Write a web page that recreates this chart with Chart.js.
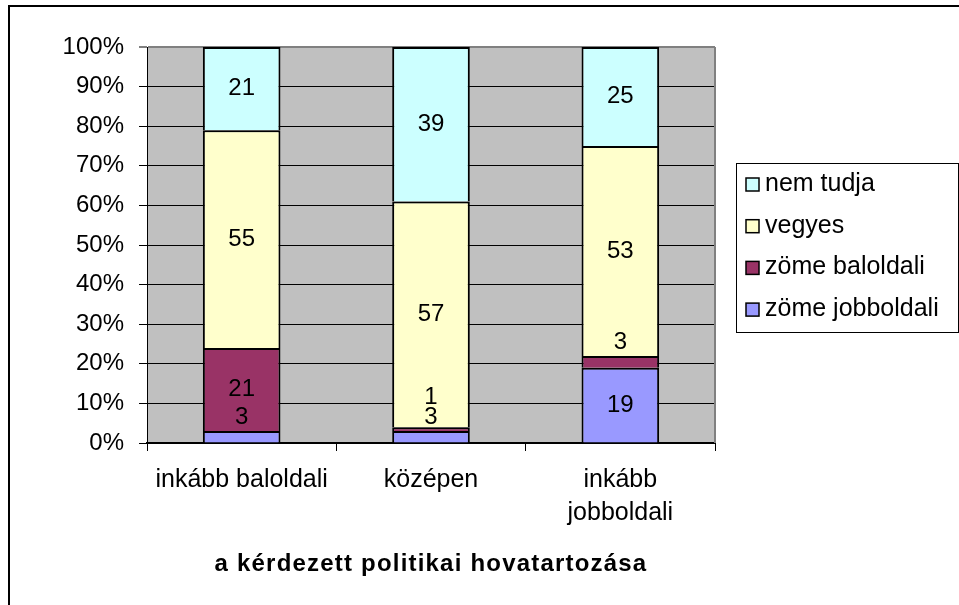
<!DOCTYPE html>
<html>
<head>
<meta charset="utf-8">
<script src="https://cdn.jsdelivr.net/npm/chart.js@4.4.1/dist/chart.umd.min.js"></script>
<style>
  html, body { margin: 0; padding: 0; background: #fff; }
  canvas { display: block; }
</style>
</head>
<body>
<canvas id="chart" width="959" height="605"></canvas>
<script>
// data
const categories = ['inkább baloldali', 'középen', ['inkább', 'jobboldali']];
const seriesNames = ['zöme jobboldali', 'zöme baloldali', 'vegyes', 'nem tudja'];
const zomeJobb = [3, 3, 19];
const zomeBal = [21, 1, 3];
const vegyes = [55, 57, 53];
const nemTudja = [21, 39, 25];
const yTickValues = [0, 10, 20, 30, 40, 50, 60, 70, 80, 90, 100];
const xTitle = 'a kérdezett politikai hovatartozása';

const colors = ['#9999FF', '#993366', '#FFFFCC', '#CCFFFF'];
const FONT = "'Liberation Sans', Arial, sans-serif";

const seriesData = [zomeJobb, zomeBal, vegyes, nemTudja];

const decorPlugin = {
  id: 'decor',
  beforeDraw(chart) {
    const { ctx, chartArea: a } = chart;
    ctx.save();
    ctx.fillStyle = '#fff';
    ctx.fillRect(0, 0, chart.width, chart.height);
    ctx.fillStyle = '#C0C0C0';
    ctx.fillRect(a.left, a.top, a.right - a.left, a.bottom - a.top);
    // outer frame (only top and left visible)
    ctx.strokeStyle = '#000';
    ctx.lineWidth = 2;
    ctx.strokeRect(9, 6, 1000, 700);
    ctx.restore();
  },
  afterDatasetsDraw(chart) {
    const { ctx, chartArea: a } = chart;
    ctx.save();
    // gray plot border on the right
    ctx.strokeStyle = '#808080';
    ctx.lineWidth = 2;
    ctx.beginPath();
    ctx.moveTo(a.right, a.top);
    ctx.lineTo(a.right, a.bottom);
    ctx.stroke();

    // value labels: centred in the segment, or just above a thin segment,
    // then pushed apart so they do not collide
    ctx.fillStyle = '#000';
    ctx.font = '24px ' + FONT;
    ctx.textAlign = 'center';
    ctx.textBaseline = 'middle';
    const n = chart.data.labels.length;
    for (let i = 0; i < n; i++) {
      let prevY = Infinity;
      chart.data.datasets.forEach((ds, d) => {
        const el = chart.getDatasetMeta(d).data[i];
        const h = Math.abs(el.base - el.y);
        let y = h < 24 ? el.y - 14 : (el.y + el.base) / 2;
        y = Math.min(y, prevY - 20);
        prevY = y;
        ctx.fillText(String(ds.data[i]), el.x, y);
      });
    }
    ctx.restore();
  },
  afterDraw(chart) {
    const { ctx, chartArea: a } = chart;
    ctx.save();
    // axis title
    ctx.fillStyle = '#000';
    ctx.font = 'bold 24px ' + FONT;
    ctx.letterSpacing = '1.2px';
    ctx.textAlign = 'center';
    ctx.textBaseline = 'alphabetic';
    ctx.fillText(xTitle, (a.left + a.right) / 2, 571);
    ctx.letterSpacing = '0px';

    // legend box
    ctx.strokeStyle = '#000';
    ctx.lineWidth = 1;
    ctx.strokeRect(736.5, 163.5, 222, 169);
    ctx.font = '25px ' + FONT;
    ctx.textAlign = 'left';
    ctx.textBaseline = 'middle';
    const ds = chart.data.datasets.slice().reverse();
    ds.forEach((d, i) => {
      const cy = 184 + i * 41.7;
      ctx.fillStyle = d.backgroundColor;
      ctx.fillRect(746, cy - 6, 13, 13);
      ctx.lineWidth = 1.5;
      ctx.strokeStyle = '#000';
      ctx.strokeRect(746, cy - 6, 13, 13);
      ctx.fillStyle = '#000';
      ctx.fillText(d.label, 765, cy);
    });
    ctx.restore();
  }
};

new Chart(document.getElementById('chart').getContext('2d'), {
  type: 'bar',
  data: {
    labels: categories,
    datasets: seriesNames.map((name, i) => ({
      label: name,
      data: seriesData[i],
      backgroundColor: colors[i],
      borderColor: '#000',
      borderWidth: { top: 2, left: 2, right: 2, bottom: 0 },
      borderSkipped: false,
      barPercentage: 0.41,
      categoryPercentage: 1
    }))
  },
  options: {
    responsive: false,
    animation: false,
    devicePixelRatio: 1,
    layout: { padding: { left: 0, top: 47, right: 244, bottom: 0 } },
    plugins: {
      legend: { display: false },
      tooltip: { enabled: false },
      title: { display: false }
    },
    scales: {
      x: {
        stacked: true,
        afterFit(scale) { scale.height = 162; },
        grid: {
          drawOnChartArea: false,
          drawTicks: true,
          tickLength: 8,
          color: '#000',
          offset: true
        },
        border: { display: true, color: '#000', width: 2 },
        ticks: {
          color: '#000',
          font: { family: FONT, size: 25, lineHeight: 1.32 },
          padding: 13,
          maxRotation: 0,
          autoSkip: false
        }
      },
      y: {
        stacked: true,
        min: 0,
        max: 100,
        afterFit(scale) { scale.width = 147; },
        afterBuildTicks(scale) { scale.ticks = yTickValues.map(v => ({ value: v })); },
        grid: {
          color: ctx => (ctx.tick && ctx.tick.value === 100 ? '#808080' : '#000'),
          lineWidth: ctx => (ctx.tick && ctx.tick.value === 100 ? 2 : 1),
          tickLength: 8,
          drawTicks: true
        },
        border: { display: true, color: '#000', width: 1 },
        ticks: {
          color: '#000',
          font: { family: FONT, size: 24 },
          padding: 15,
          callback: v => v + '%'
        }
      }
    }
  },
  plugins: [decorPlugin]
});
</script>
</body>
</html>
